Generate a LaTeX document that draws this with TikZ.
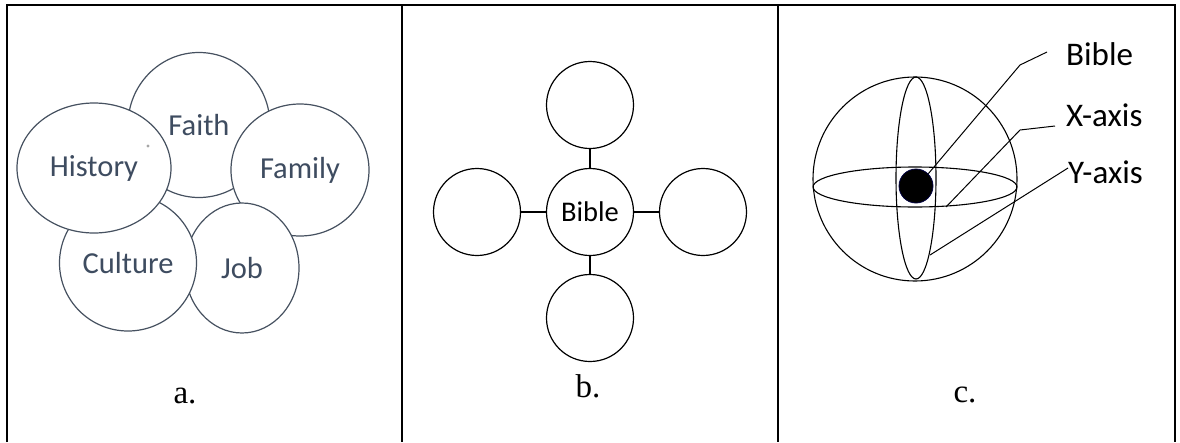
\documentclass[tikz,border=0pt]{standalone}
\usepackage{fontspec}
\setmainfont{Liberation Serif}
\newfontfamily\carl{Carlito}
\usetikzlibrary{shapes.geometric}
\definecolor{bubline}{HTML}{465160}
\definecolor{bubtext}{HTML}{3E4C60}
\tikzset{
  frameline/.style={line width=2pt, black},
  bub/.style={ellipse, draw=bubline, line width=1.2pt, fill=white, inner sep=0pt,
    text=bubtext, font=\carl\fontsize{30.5}{36}\selectfont},
  ring/.style={circle, draw=black, line width=1.2pt, fill=white, minimum size=87pt, inner sep=0pt},
  ringtext/.style={font=\carl\fontsize{28.5}{34}\selectfont},
  link/.style={line width=1.2pt, black},
  orb/.style={ellipse, draw=black, line width=1.1pt, inner sep=0pt},
  leader/.style={line width=1pt, black},
  ctext/.style={font=\carl\fontsize{33}{40}\selectfont, inner sep=0pt, anchor=base west},
  panellab/.style={font=\fontsize{33}{40}\selectfont, inner sep=0pt, anchor=base}
}
\begin{document}
\begin{tikzpicture}[x=1pt, y=-1pt]
\useasboundingbox (0,0) rectangle (1180,442);
% frame
\draw[frameline] (7,442) -- (7,5) -- (1175,5) -- (1175,442);
\draw[frameline] (402,5) -- (402,442);
\draw[frameline] (778,5) -- (778,442);

% panel a
\node[bub, minimum width=142pt, minimum height=145pt] (faith) at (199,125) {Faith};
\node[bub, minimum width=138pt, minimum height=132pt] (family) at (300,170) {Family};
\node[bub, minimum width=114pt, minimum height=130pt] (job) at (242,268) {Job};
\node[bub, minimum width=137pt, minimum height=136pt] (culture) at (128,263) {Culture};
\node[bub, minimum width=154pt, minimum height=130pt] (history) at (94,168) {History};
\fill[gray!70] (148,146) circle (1.6pt);
\node[panellab] (la) at (185,403) {a.};

% panel b
\node[ring, ringtext] (bible) at (590,212) {Bible};
\node[ring] (top) at (590,105) {};
\node[ring] (bottom) at (590,318) {};
\node[ring] (left) at (477,212) {};
\node[ring] (right) at (703,212) {};
\draw[link] (bible) -- (top);
\draw[link] (bible) -- (bottom);
\draw[link] (bible) -- (left);
\draw[link] (bible) -- (right);
\node[panellab] (lb) at (588,397) {b.};

% panel c
\node[circle, draw=black, line width=1.1pt, minimum size=204pt, inner sep=0pt] (sphere) at (915,179) {};
\node[orb, minimum width=204pt, minimum height=40pt] (hor) at (915,187) {};
\node[orb, minimum width=40pt, minimum height=202pt] (ver) at (916,178) {};
\node[circle, fill=black, draw=black!75!blue, line width=0.8pt, minimum size=34pt, inner sep=0pt] (dot) at (916,186) {};
\node[ctext] (tbible) at (1066,65) {Bible};
\node[ctext] (tx) at (1066,126) {X-axis};
\node[ctext] (ty) at (1068,183) {Y-axis};
\coordinate (b1) at (1020,65);
\coordinate (b2) at (1047,52);
\coordinate (x0) at (946,207);
\coordinate (x1) at (1020,130);
\coordinate (x2) at (1055,126);
\coordinate (y0) at (930,255);
\coordinate (y2) at (1068,168);
\draw[leader] (dot.45) -- (b1) -- (b2);
\draw[leader] (x0) -- (x1) -- (x2);
\draw[leader] (y0) -- (y2);
\node[panellab] (lc) at (965,402) {c.};
\end{tikzpicture}
\end{document}
